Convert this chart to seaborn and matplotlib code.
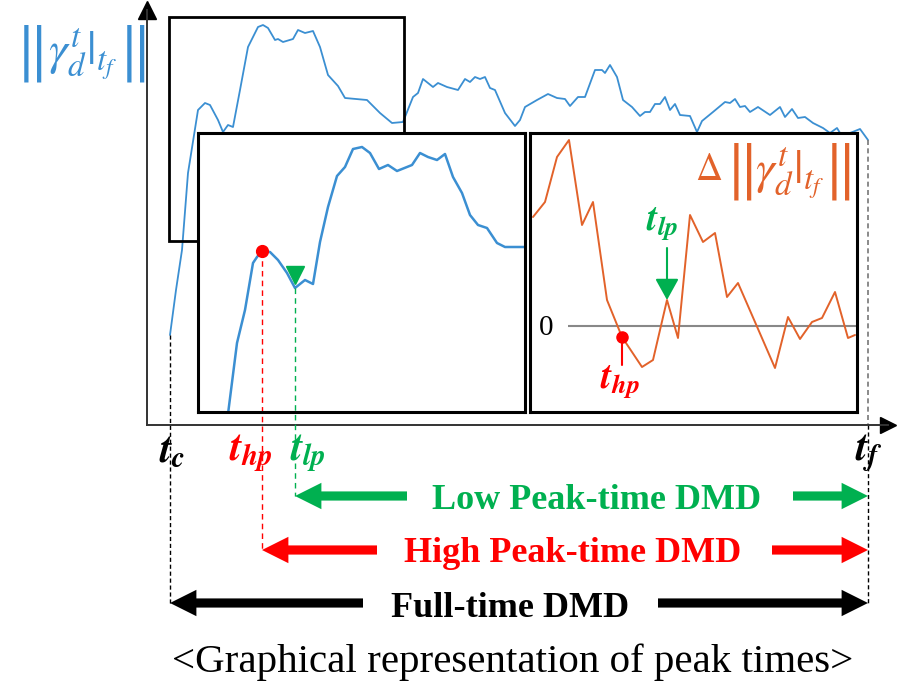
import matplotlib
matplotlib.use("Agg")
import matplotlib.pyplot as plt
import matplotlib.patches as mpatches
import seaborn as sns

# ---------------- data ----------------
# full-time magnitude curve ||gamma_d^t|_tf|| (time step, magnitude)
full_t = [0, 6, 12, 18, 28, 35, 40, 48, 53, 58,
          63, 70, 78, 88, 93, 98, 105, 108, 113, 123,
          128, 135, 143, 150, 158, 168, 175, 197, 210, 222,
          233, 243, 248, 253, 263, 268, 277, 288, 295, 300,
          305, 310, 315, 320, 325, 335, 345, 350, 355, 367,
          378, 387, 395, 400, 408, 415, 425, 432, 435, 440,
          447, 453, 462, 470, 475, 480, 485, 490, 495, 500,
          505, 510, 520, 527, 532, 543, 555, 560, 565, 570,
          575, 580, 588, 600, 610, 615, 622, 628, 635, 643,
          653, 660, 667, 670, 680, 690, 698]
full_v = [88, 133, 173, 250, 313, 320, 318, 303, 291, 298,
          296, 333, 376, 396, 398, 395, 383, 384, 381, 384,
          393, 390, 392, 376, 348, 337, 325, 323, 310, 300,
          301, 326, 330, 344, 336, 340, 336, 333, 344, 341,
          346, 344, 346, 335, 333, 310, 297, 303, 316, 323,
          329, 325, 324, 317, 326, 326, 353, 353, 350, 358,
          346, 323, 316, 307, 311, 311, 319, 319, 326, 313,
          319, 308, 307, 291, 302, 311, 321, 320, 324, 316,
          317, 311, 316, 308, 316, 306, 314, 305, 306, 300,
          295, 290, 295, 290, 290, 294, 283]

# zoomed early part (inset 1)
zoom_t = [58, 67, 75, 83, 87, 92, 100, 108, 117, 125,
          135, 143, 150, 158, 167, 175, 183, 192, 200, 209,
          218, 227, 242, 250, 258, 267, 275, 283, 292, 300,
          308, 317, 327, 335, 355]
zoom_v = [-2, 69, 102, 149, 155, 161, 160, 152, 139, 124,
          132, 128, 170, 205, 236, 245, 263, 265, 259, 243,
          247, 241, 247, 259, 255, 252, 258, 235, 219, 197,
          187, 184, 169, 165, 165]

# difference curve Delta||gamma|| (inset 2)
diff_t = [5, 17, 29, 41, 54, 65, 79, 94, 114, 125,
          139, 150, 162, 175, 187, 199, 210, 227, 247, 260,
          272, 284, 294, 307, 320, 327]
diff_v = [109, 124, 169, 186, 101, 124, 26, -11, -41, -34,
          26, -12, 111, 84, 93, 29, 43, 4, -42, 9,
          -13, 4, 8, 34, -12, -9]

# key times (main time axis)
t_c, t_hp, t_lp, t_f = 0, 92, 125, 698
hp_val, lp_val = 161, 124          # inset-1 values at t_hp / t_lp
d_hp_t, d_hp_v = 94, -11           # inset-2 marks
d_lp_t, d_lp_v = 139, 26

# zoom window drawn on the main curve
win_t0, win_t1, win_v0, win_v1 = -1, 234, 182, 406

BLUE = "#3B8FD2"
ORANGE = "#E2622A"
GREEN = "#00B050"
RED = "#FF0000"

# ---------------- style ----------------
sns.set_theme(style="white")
plt.rcParams["font.family"] = ["Liberation Serif", "DejaVu Serif"]
plt.rcParams["mathtext.fontset"] = "stix"

W, H = 903, 690
fig = plt.figure(figsize=(W / 100, H / 100), dpi=100)


def px_axes(x0, y0, x1, y1):
    return fig.add_axes([x0 / W, 1 - y1 / H, (x1 - x0) / W, (y1 - y0) / H])


def norm_label(a, xl, xc, xr, y, color, delta_x=None):
    """||gamma_d^t|_tf|| with tall double bars (axes in 1 unit = 1 px)."""
    kw = dict(color=color, ha="center", va="center", clip_on=False)
    if delta_x is not None:
        a.text(delta_x, y + 1, r"$\Delta$", fontsize=27, **kw)
    a.text(xl, y, r"$\Vert$", fontsize=46, **kw)
    a.text(xr, y, r"$\Vert$", fontsize=46, **kw)
    a.text(xc, y - 2, r"$\gamma_{d}^{t}|_{t_f}$", fontsize=34, **kw)


# ---------------- main axes ----------------
ax = px_axes(147, 10, 888, 425)
sns.lineplot(x=full_t, y=full_v, ax=ax, color=BLUE, lw=1.3,
             estimator=None, sort=False)
ax.set_xlim(-23, 718)
ax.set_ylim(-2, 413)
ax.set_xticks([]); ax.set_yticks([])
ax.set_xlabel(""); ax.set_ylabel("")
ax.spines["top"].set_visible(False)
ax.spines["right"].set_visible(False)
for s in ("left", "bottom"):
    ax.spines[s].set_color("#333333")
    ax.spines[s].set_linewidth(1.4)
ax.plot(1, 0, ">", color="black", ms=11, transform=ax.transAxes, clip_on=False)
ax.plot(0, 1, "^", color="black", ms=13, transform=ax.transAxes, clip_on=False)

ax.add_patch(mpatches.Rectangle((win_t0, win_v0), win_t1 - win_t0, win_v1 - win_v0,
                                fill=False, ec="black", lw=2.0, zorder=4))

# vertical guides t_c and t_f
ax.plot([t_c, t_c], [full_v[0], -180], color="black", lw=1.0, ls=(0, (3, 2)),
        clip_on=False)
ax.plot([t_f, t_f], [full_v[-1], -2], color="#777777", lw=1.2, ls=(0, (3, 2)),
        clip_on=False)
ax.plot([t_f, t_f], [-2, -180], color="black", lw=1.0, ls=(0, (3, 2)),
        clip_on=False)

# time labels
lab_kw = dict(ha="center", va="top", fontsize=30)
ax.text(t_c + 2, -10, r"$\mathbfit{t}_{\mathbfit{c}}$", color="black", **lab_kw)
ax.text(t_hp - 11, -10, r"$\mathbfit{t}_{\mathbfit{hp}}$", color=RED, **lab_kw)
ax.text(t_lp + 13, -10, r"$\mathbfit{t}_{\mathbfit{lp}}$", color=GREEN, **lab_kw)
ax.text(t_f + 1, -10, r"$\mathbfit{t}_{\mathbfit{f}}$", color="black", **lab_kw)

# y label
norm_label(ax, -141, -87, -38, 370, BLUE)

# range arrows
arrows = [
    ("Low Peak-time DMD", GREEN, t_lp, 237, 623, -73, 427, -86),
    ("High Peak-time DMD", RED, t_hp, 207, 602, -127, 403, -139),
    ("Full-time DMD", "black", t_c, 193, 488, -180, 340, -194),
]
astyle = "simple,head_length=0.95,head_width=0.95,tail_width=0.33"
for label, col, t0, tail_l, tail_r, v, tx, ty in arrows:
    for tip, tail in ((t0, tail_l), (t_f, tail_r)):
        ax.annotate("", xy=(tip, v), xytext=(tail, v), annotation_clip=False,
                    arrowprops=dict(arrowstyle=astyle, mutation_scale=20,
                                    color=col, shrinkA=0, shrinkB=0, lw=0))
    ax.text(tx, ty, label, color=col, fontsize=26, fontweight="bold",
            ha="center", va="baseline")

ax.text(343, -249, "<Graphical representation of peak times>", color="black",
        fontsize=29.5, ha="center", va="baseline")

# ---------------- inset 1: zoom ----------------
ax1 = px_axes(198, 133, 525, 412)
ax1.set_facecolor("white")
sns.lineplot(x=zoom_t, y=zoom_v, ax=ax1, color=BLUE, lw=1.8,
             estimator=None, sort=False)
ax1.set_xlim(28, 355)
ax1.set_ylim(0, 279)
ax1.set_xticks([]); ax1.set_yticks([])
ax1.set_xlabel(""); ax1.set_ylabel("")
for s in ax1.spines.values():
    s.set_visible(True); s.set_color("black"); s.set_linewidth(2.2)
ax1.plot([t_hp, t_hp], [hp_val, -138], color=RED, lw=1.0, ls=(0, (4, 3)),
         clip_on=False)
ax1.plot([t_lp, t_lp], [lp_val, -84], color=GREEN, lw=1.0, ls=(0, (4, 3)),
         clip_on=False)
ax1.plot(t_hp, hp_val, "o", color=RED, ms=8.5, zorder=5)
ax1.plot(t_lp, lp_val + 13, "v", color=GREEN, ms=13, zorder=5)

# ---------------- inset 2: difference ----------------
ax2 = px_axes(530, 133, 857, 412)
ax2.set_facecolor("white")
ax2.hlines(0, 40, 329, color="#888888", lw=1.5)
sns.lineplot(x=diff_t, y=diff_v, ax=ax2, color=ORANGE, lw=1.4,
             estimator=None, sort=False)
ax2.set_xlim(2, 329)
ax2.set_ylim(-86, 193)
ax2.set_xticks([]); ax2.set_yticks([])
ax2.set_xlabel(""); ax2.set_ylabel("")
for s in ax2.spines.values():
    s.set_visible(True); s.set_color("black"); s.set_linewidth(2.2)
ax2.text(18, -2, "0", fontsize=21, ha="center", va="center", color="black")
norm_label(ax2, 211, 262, 309, 154, ORANGE, delta_x=181)
ax2.plot([d_hp_t, d_hp_t], [d_hp_v, -39], color=RED, lw=1.5)
ax2.plot(d_hp_t, d_hp_v, "o", color=RED, ms=8, zorder=5)
ax2.text(d_hp_t - 2, -56, r"$\mathbfit{t}_{\mathbfit{hp}}$", color=RED,
         fontsize=27, ha="center", va="center")
ax2.annotate("", xy=(d_lp_t, d_lp_v), xytext=(d_lp_t, 78),
             arrowprops=dict(arrowstyle="-|>,head_length=1.3,head_width=0.72",
                             mutation_scale=10, color=GREEN, lw=1.5,
                             shrinkA=0, shrinkB=0))
ax2.text(d_lp_t - 5, 102, r"$\mathbfit{t}_{\mathbfit{lp}}$", color=GREEN,
         fontsize=27, ha="center", va="center")

fig.savefig("out.png", dpi=100)
